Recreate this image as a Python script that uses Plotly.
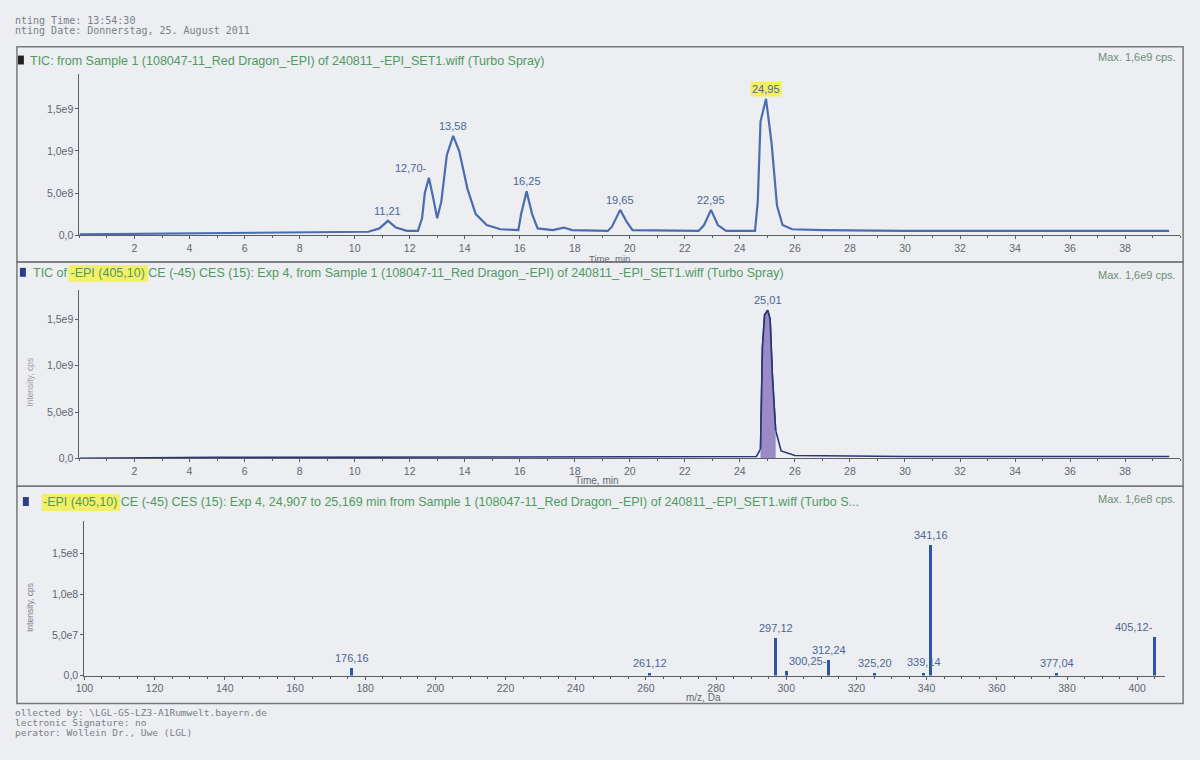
import plotly.graph_objects as go

W, H = 1200, 760
def fx(x): return x / W
def fy(y): return 1 - y / H

# ---------------- data ----------------
# Panel 1: TIC (time in min, intensity in cps)
tic_time = [0.0, 2.0, 5.0, 8.0, 10.5, 10.9, 11.21, 11.5, 11.9, 12.3, 12.45, 12.55, 12.70, 12.85,
            13.0, 13.15, 13.35, 13.58, 13.8, 14.1, 14.4, 14.8, 15.3, 15.95, 16.05, 16.25, 16.45,
            16.65, 17.2, 17.6, 17.9, 19.2, 19.35, 19.65, 19.9, 20.1, 22.5, 22.7, 22.95, 23.2, 23.5,
            24.55, 24.65, 24.75, 24.95, 25.15, 25.35, 25.55, 25.9, 27.0, 30.0, 35.0, 39.6]
tic_int = [0.01e9, 0.015e9, 0.02e9, 0.03e9, 0.04e9, 0.08e9, 0.17e9, 0.09e9, 0.05e9, 0.05e9, 0.2e9,
           0.5e9, 0.68e9, 0.45e9, 0.2e9, 0.4e9, 0.95e9, 1.18e9, 1.0e9, 0.55e9, 0.25e9, 0.12e9, 0.07e9,
           0.06e9, 0.25e9, 0.52e9, 0.25e9, 0.08e9, 0.06e9, 0.09e9, 0.06e9, 0.05e9, 0.1e9, 0.3e9,
           0.15e9, 0.06e9, 0.05e9, 0.12e9, 0.3e9, 0.12e9, 0.05e9, 0.05e9, 0.4e9, 1.35e9, 1.62e9,
           1.1e9, 0.35e9, 0.12e9, 0.07e9, 0.06e9, 0.05e9, 0.05e9, 0.05e9]
tic_peak_time = [11.21, 12.70, 13.58, 16.25, 19.65, 22.95, 24.95]
tic_peak_int = [0.17e9, 0.68e9, 1.18e9, 0.52e9, 0.3e9, 0.3e9, 1.62e9]
tic_peak_label = ["11,21", "12,70", "13,58", "16,25", "19,65", "22,95", "24,95"]

# Panel 2: XIC of -EPI (405,10)
xic_time = [0.0, 5.0, 15.0, 24.6, 24.75, 24.82, 24.9, 25.01, 25.1, 25.18, 25.3, 25.5, 26.0, 30.0, 39.6]
xic_int = [0.0, 0.01e9, 0.015e9, 0.02e9, 0.1e9, 1.2e9, 1.55e9, 1.6e9, 1.5e9, 0.9e9, 0.3e9, 0.08e9,
           0.03e9, 0.02e9, 0.02e9]
xic_area_time = [24.75, 24.82, 24.9, 25.01, 25.1, 25.18, 25.3]
xic_area_int = [0.1e9, 1.2e9, 1.55e9, 1.6e9, 1.5e9, 0.9e9, 0.3e9]
xic_peak_time = [25.01]
xic_peak_int = [1.6e9]
xic_peak_label = ["25,01"]

# Panel 3: product ion spectrum
ms_mz = [176.16, 261.12, 297.12, 300.25, 312.24, 325.20, 339.14, 341.16, 377.04, 405.12]
ms_int = [0.9e7, 0.3e7, 4.6e7, 0.6e7, 1.9e7, 0.3e7, 0.4e7, 1.6e8, 0.3e7, 4.7e7]
ms_label = ["176,16", "261,12", "297,12", "300,25", "312,24", "325,20", "339,14", "341,16",
            "377,04", "405,12"]

time_ticks = list(range(2, 40, 2))
tic_yticks = [0, 0.5e9, 1.0e9, 1.5e9]
tic_yticktext = ["0,0", "5,0e8", "1,0e9", "1,5e9"]
ms_xticks = list(range(100, 420, 20))
ms_yticks = [0, 0.5e8, 1.0e8, 1.5e8]
ms_yticktext = ["0,0", "5,0e7", "1,0e8", "1,5e8"]

# ---------------- styles ----------------
BG = "#eceef1"
LINE = "#4a6db0"
TXT = "#5f6670"
GREEN = "#4f9a63"
LBL = "#4b6796"
FONT = "Liberation Sans"
MONO = "DejaVu Sans Mono"

fig = go.Figure()

fig.add_trace(go.Scatter(x=tic_time, y=tic_int, mode="lines", line=dict(color=LINE, width=2.2),
                         xaxis="x", yaxis="y", hoverinfo="skip"))
fig.add_trace(go.Scatter(x=xic_time, y=xic_int, mode="lines", line=dict(color="#2a3575", width=1.6),
                         xaxis="x2", yaxis="y2", hoverinfo="skip"))
fig.add_trace(go.Scatter(x=xic_area_time, y=xic_area_int, mode="lines", fill="tozeroy",
                         fillcolor="rgba(140,120,190,0.85)", line=dict(color="#2a3575", width=1.6),
                         xaxis="x2", yaxis="y2", hoverinfo="skip"))
fig.add_trace(go.Bar(x=ms_mz, y=ms_int, width=0.9, marker=dict(color="#2d55a5", line=dict(width=0)),
                     xaxis="x3", yaxis="y3", hoverinfo="skip"))

axis_common = dict(showline=True, linecolor="#5a5f66", linewidth=1.2, ticks="outside", ticklen=3,
                   tickcolor="#5a5f66", showgrid=False, zeroline=False,
                   tickfont=dict(family=FONT, size=10.5, color=TXT))
minor_t = dict(ticks="outside", dtick=1, ticklen=2, tickcolor="#5a5f66")
minor_m = dict(ticks="outside", dtick=5, ticklen=2, tickcolor="#5a5f66")

fig.update_layout(
    width=W, height=H, margin=dict(l=0, r=0, t=0, b=0),
    paper_bgcolor=BG, plot_bgcolor=BG, showlegend=False, bargap=0,
    font=dict(family=FONT),
    xaxis=dict(domain=[fx(71), fx(1180)], range=[0, 40], tickvals=time_ticks, anchor="y",
               minor=minor_t, **axis_common),
    yaxis=dict(domain=[fy(237), fy(75)], range=[0, 1.91e9], tickvals=tic_yticks, ticktext=tic_yticktext,
               anchor="x", **axis_common),
    xaxis2=dict(domain=[fx(71), fx(1180)], range=[0, 40], tickvals=time_ticks, anchor="y2",
                minor=minor_t, **axis_common),
    yaxis2=dict(domain=[fy(462), fy(292)], range=[0, 1.82e9], tickvals=tic_yticks, ticktext=tic_yticktext,
                anchor="x2", **axis_common),
    xaxis3=dict(domain=[fx(76), fx(1165)], range=[100, 408], tickvals=ms_xticks, anchor="y3",
                minor=minor_m, **axis_common),
    yaxis3=dict(domain=[fy(681), fy(525)], range=[0, 1.90e8], tickvals=ms_yticks, ticktext=ms_yticktext,
                anchor="x3", **axis_common),
)

shapes = []
# panel frames
for (y0, y1) in [(47, 264), (264, 490), (490, 709)]:
    shapes.append(dict(type="rect", xref="paper", yref="paper", x0=fx(8), x1=fx(1183), y0=fy(y1), y1=fy(y0),
                       line=dict(color="#77797d", width=1.5), fillcolor="rgba(0,0,0,0)", layer="below"))
# yellow highlights in titles
shapes.append(dict(type="rect", xref="paper", yref="paper", x0=fx(60), x1=fx(140), y0=fy(284), y1=fy(267),
                   line=dict(width=0), fillcolor="rgba(245,240,80,0.85)", layer="below"))
shapes.append(dict(type="rect", xref="paper", yref="paper", x0=fx(33), x1=fx(112), y0=fy(515), y1=fy(498),
                   line=dict(width=0), fillcolor="rgba(245,240,80,0.85)", layer="below"))
# title squares
for (x0, y0, c) in [(9, 56, "#222222"), (11, 270, "#2a3f8a"), (14, 501, "#2a3f8a")]:
    shapes.append(dict(type="rect", xref="paper", yref="paper", x0=fx(x0), x1=fx(x0 + 6), y0=fy(y0 + 9),
                       y1=fy(y0), line=dict(width=0), fillcolor=c))
fig.update_layout(shapes=shapes)

ann = []
def paper_text(x, y, text, size=10, color=TXT, family=FONT, xanchor="left", angle=0):
    ann.append(dict(xref="paper", yref="paper", x=fx(x), y=fy(y), text=text, showarrow=False,
                    xanchor=xanchor, yanchor="middle", textangle=angle,
                    font=dict(family=family, size=size, color=color)))

paper_text(4, 21, "nting Time: 13:54:30", size=10, color="#7b7f86", family=MONO)
paper_text(4, 31, "nting Date: Donnerstag, 25. August 2011", size=10, color="#7b7f86", family=MONO)
paper_text(4, 718, "ollected by: \\LGL-GS-LZ3-A1Rumwelt.bayern.de", size=9.5, color="#7b7f86", family=MONO)
paper_text(4, 728, "lectronic Signature: no", size=9.5, color="#7b7f86", family=MONO)
paper_text(4, 738, "perator: Wollein Dr., Uwe (LGL)", size=9.5, color="#7b7f86", family=MONO)

paper_text(19, 61, "TIC: from Sample 1 (108047-11_Red Dragon_-EPI) of 240811_-EPI_SET1.wiff (Turbo Spray)",
           size=12.5, color=GREEN)
paper_text(22, 275, "TIC of -EPI (405,10) CE (-45) CES (15): Exp 4, from Sample 1 (108047-11_Red Dragon_-EPI) "
           "of 240811_-EPI_SET1.wiff (Turbo Spray)", size=12.5, color=GREEN)
paper_text(32, 506, "-EPI (405,10) CE (-45) CES (15): Exp 4, 24,907 to 25,169 min from Sample 1 "
           "(108047-11_Red Dragon_-EPI) of 240811_-EPI_SET1.wiff (Turbo S...", size=12.5, color=GREEN)
paper_text(1178, 57, "Max. 1,6e9 cps.", size=11, color="#6b8d78", xanchor="right")
paper_text(1178, 277, "Max. 1,6e9 cps.", size=11, color="#6b8d78", xanchor="right")
paper_text(1178, 503, "Max. 1,6e8 cps.", size=11, color="#6b8d78", xanchor="right")

paper_text(605, 261, "Time, min", size=9.5, color=TXT, xanchor="center")
paper_text(592, 484, "Time, min", size=10, color=TXT, xanchor="center")
paper_text(700, 703, "m/z, Da", size=10, color=TXT, xanchor="center")
paper_text(21, 385, "Intensity, cps", size=8.5, color="#9a9ea5", xanchor="center", angle=-90)
paper_text(21, 612, "Intensity, cps", size=8.5, color="#7b7f86", xanchor="center", angle=-90)

# peak labels panel 1
for t, v, s in zip(tic_peak_time, tic_peak_int, tic_peak_label):
    hl = s == "24,95"
    left = s == "12,70"
    ann.append(dict(xref="x", yref="y", x=t, y=v, text=(s + "-") if left else s, showarrow=False,
                    xanchor="right" if left else "center", yanchor="bottom", yshift=2,
                    bgcolor="rgba(245,240,80,0.9)" if hl else None,
                    font=dict(family=FONT, size=11, color=LBL)))
for t, v, s in zip(xic_peak_time, xic_peak_int, xic_peak_label):
    ann.append(dict(xref="x2", yref="y2", x=t, y=v, text=s, showarrow=False, xanchor="center",
                    yanchor="bottom", yshift=2, font=dict(family=FONT, size=11, color=LBL)))
for m, v, s in zip(ms_mz, ms_int, ms_label):
    if s == "405,12":
        xa, text = "right", s + "-"
    elif s == "300,25":
        xa, text = "left", s + "-"
    else:
        xa, text = "center", s
    ann.append(dict(xref="x3", yref="y3", x=m, y=v, text=text, showarrow=False, xanchor=xa,
                    yanchor="bottom", yshift=2, font=dict(family=FONT, size=11, color=LBL)))

fig.update_layout(annotations=ann)
fig.write_html("out.html")
